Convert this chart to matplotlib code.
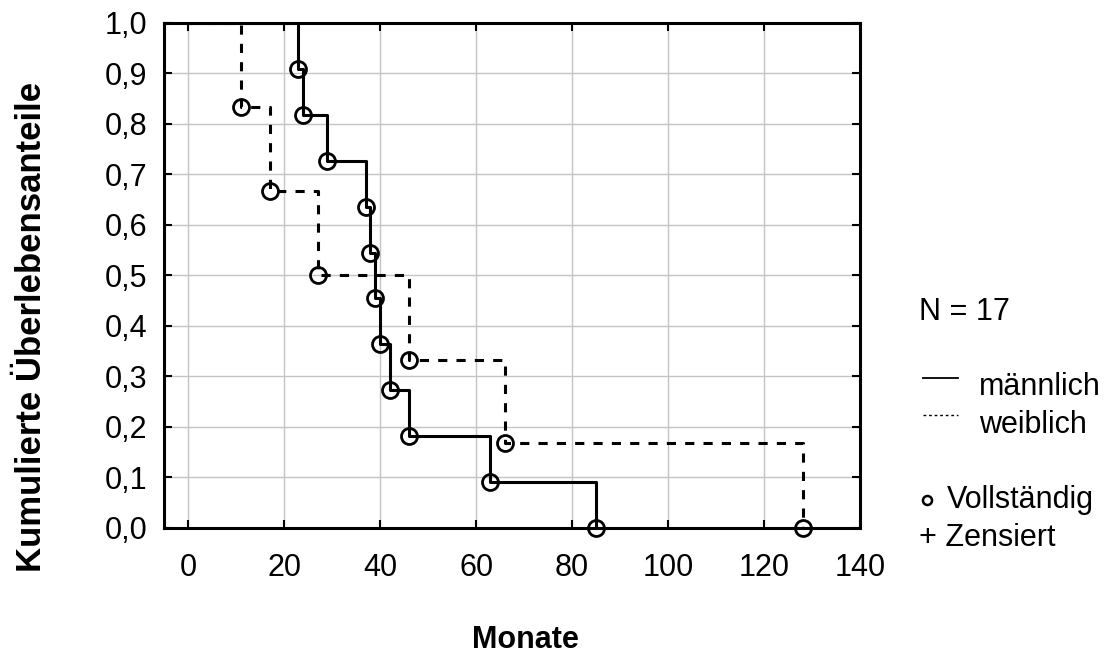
import numpy as np
import matplotlib
matplotlib.use("Agg")
import matplotlib.pyplot as plt

plt.rcParams['font.family'] = ['Liberation Sans', 'DejaVu Sans']

# Ereigniszeiten (Monate) und kumulierte Überlebensanteile
zeit_m = [23, 24, 29, 37, 38, 39, 40, 42, 46, 63, 85]
surv_m = [0.909, 0.818, 0.727, 0.636, 0.545, 0.455, 0.364, 0.273, 0.182, 0.091, 0.0]
zeit_w = [11, 17, 27, 46, 66, 128]
surv_w = [0.833, 0.667, 0.5, 0.333, 0.167, 0.0]

x_ticks = [0, 20, 40, 60, 80, 100, 120, 140]
y_ticks = [0.0, 0.1, 0.2, 0.3, 0.4, 0.5, 0.6, 0.7, 0.8, 0.9, 1.0]

fig = plt.figure(figsize=(11.13, 6.54), dpi=100)
ax = fig.add_axes([0.1474, 0.193, 0.6254, 0.772])

def kurve(zeit, surv, ls):
    xs = [0] + zeit
    ys = [1.0] + surv
    ax.step(xs, ys, where='post', color='black', linestyle=ls, linewidth=2.2)
    ax.plot(zeit, surv, 'o', markersize=11.5, markerfacecolor='none',
            markeredgecolor='black', markeredgewidth=2, clip_on=False)

kurve(zeit_m, surv_m, '-')
kurve(zeit_w, surv_w, (0, (3, 3)))

ax.set_xlim(-5, 140)
ax.set_ylim(0, 1)
ax.set_xticks(x_ticks)
ax.set_yticks(y_ticks)
ax.set_yticklabels([f"{v:.1f}".replace('.', ',') for v in y_ticks])
ax.tick_params(direction='in', length=6, width=1.5, labelsize=22, pad=12,
               top=True, right=True, colors='black')
ax.tick_params(axis='x', pad=18)
for s in ax.spines.values():
    s.set_linewidth(2.2)
ax.grid(True, color='#c4c4c4', linewidth=1)
ax.set_axisbelow(True)

fig.text(0.028, 0.5, 'Kumulierte Überlebensanteile', rotation=90, fontsize=25,
         fontweight='bold', ha='center', va='center')
fig.text(0.472, 0.022, 'Monate', fontsize=22, fontweight='bold', ha='center', va='center')

# Legende
fig.text(0.826, 0.523, 'N = 17', fontsize=22, va='center')
fig.text(0.88, 0.408, 'männlich', fontsize=22, va='center')
fig.text(0.88, 0.35, 'weiblich', fontsize=22, va='center')
fig.add_artist(plt.Line2D([0.829, 0.861], [0.422, 0.422], color='black', linewidth=1.3))
fig.add_artist(plt.Line2D([0.829, 0.861], [0.365, 0.365], color='black', linewidth=1,
                          linestyle=(0, (2, 2))))
fig.add_artist(plt.Line2D([0.8325], [0.235], marker='o', markersize=6.5,
                          markerfacecolor='none', markeredgecolor='black',
                          markeredgewidth=1.8))
fig.text(0.851, 0.235, 'Vollständig', fontsize=22, va='center')
fig.text(0.826, 0.177, '+ Zensiert', fontsize=22, va='center')

fig.savefig('out.png', dpi=100)
